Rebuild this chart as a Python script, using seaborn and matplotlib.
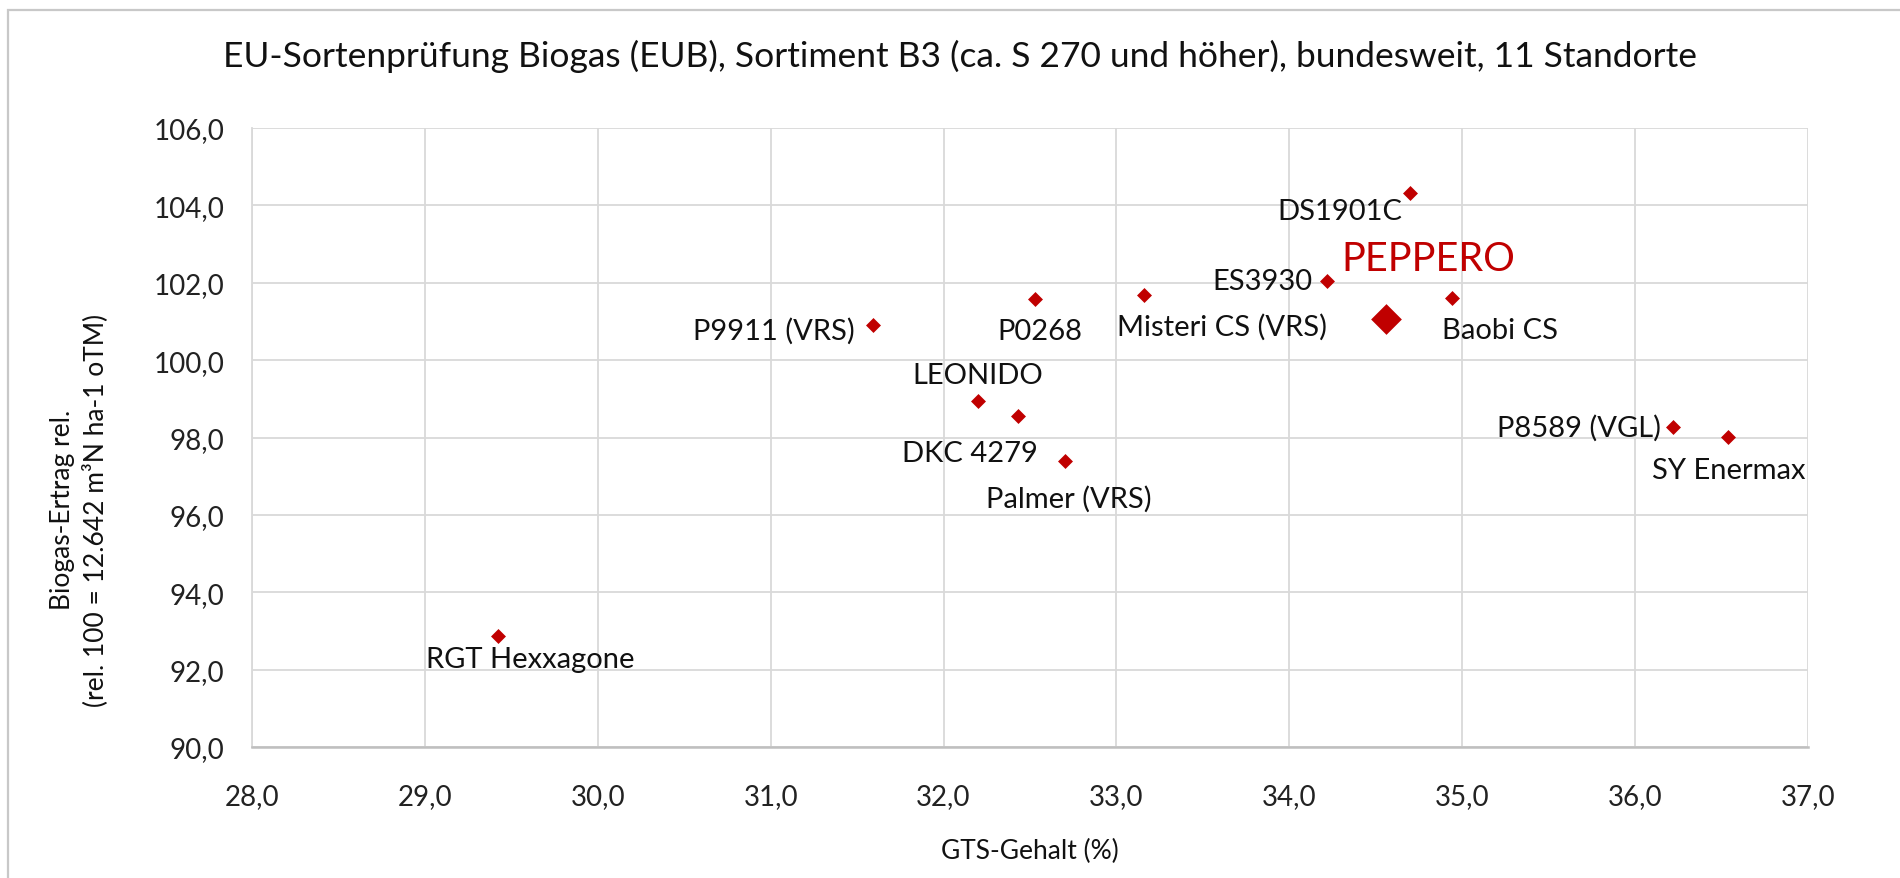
import numpy as np
import pandas as pd
import matplotlib
matplotlib.use("Agg")
import matplotlib.pyplot as plt
import seaborn as sns
from matplotlib.ticker import FuncFormatter
from matplotlib.patches import Rectangle

# Daten
sorten = ["DS1901C", "ES3930", "PEPPERO", "Baobi CS", "Misteri CS (VRS)", "P0268",
          "P9911 (VRS)", "LEONIDO", "DKC 4279", "Palmer (VRS)", "P8589 (VGL)",
          "SY Enermax", "RGT Hexxagone"]
gts = [34.70, 34.22, 34.56, 34.94, 33.16, 32.53, 31.59, 32.20, 32.43, 32.70, 36.22, 36.54, 29.42]
biogas = [104.31, 102.05, 101.06, 101.61, 101.69, 101.58, 100.91, 98.94, 98.56, 97.38, 98.27, 98.01, 92.87]
hervorgehoben = "PEPPERO"

# Label-Versatz in Pixeln (dx, dy nach oben) und Ausrichtung
label_offsets = [(-8, -26, "right"), (-15, -8, "right"), (42, 49, "center"), (48, -40, "center"),
                 (78, -40, "center"), (5, -40, "center"), (-18, -14, "right"), (0, 18, "center"),
                 (-48, -45, "center"), (4, -45, "center"), (-12, -9, "right"), (0, -41, "center"),
                 (33, -31, "center")]

df = pd.DataFrame({"Sorte": sorten, "GTS": gts, "Biogas": biogas})
rot = "#C00000"
grid_col = "#d9d9d9"

sns.set_style("white")
plt.rcParams["font.family"] = ["Lato", "DejaVu Sans"]

fig = plt.figure(figsize=(19, 8.79), dpi=100)
ax = fig.add_axes([252 / 1900, 131 / 879, 1556 / 1900, 619 / 879])

normal = df[df["Sorte"] != hervorgehoben]
gross = df[df["Sorte"] == hervorgehoben]
sns.scatterplot(data=normal, x="GTS", y="Biogas", marker="D", s=58, color=rot,
                linewidth=0, ax=ax, zorder=3)
sns.scatterplot(data=gross, x="GTS", y="Biogas", marker="D", s=245, color=rot,
                linewidth=0, ax=ax, zorder=3)

for (name, x, y), (dx, dy, ha) in zip(zip(sorten, gts, biogas), label_offsets):
    if name == hervorgehoben:
        ax.annotate(name, (x, y), xytext=(dx, dy), textcoords="offset pixels",
                    ha=ha, va="baseline", fontsize=28.5, color=rot)
    else:
        ax.annotate(name, (x, y), xytext=(dx, dy), textcoords="offset pixels",
                    ha=ha, va="baseline", fontsize=21, color="#111111")

ax.set_xlim(28, 37)
ax.set_ylim(90, 106)
ax.set_xticks(np.arange(28, 37.5, 1))
ax.set_yticks(np.arange(90, 106.5, 2))
komma = FuncFormatter(lambda v, p: f"{v:.1f}".replace(".", ","))
ax.xaxis.set_major_formatter(komma)
ax.yaxis.set_major_formatter(komma)
ax.tick_params(axis="both", length=0, labelsize=20, colors="#222222")
ax.tick_params(axis="x", pad=26)
ax.tick_params(axis="y", pad=20)
ax.grid(True, color=grid_col, linewidth=1.3)
ax.set_axisbelow(True)
for s in ["top", "right"]:
    ax.spines[s].set_visible(False)
ax.spines["left"].set_color(grid_col)
ax.spines["left"].set_linewidth(1.3)
ax.spines["bottom"].set_color("#bfbfbf")
ax.spines["bottom"].set_linewidth(1.8)
ax.set_xlabel("")
ax.set_ylabel("")

fig.text(960 / 1900, 1 - 56 / 879,
         "EU-Sortenprüfung Biogas (EUB), Sortiment B3 (ca. S 270 und höher), bundesweit, 11 Standorte",
         ha="center", va="center", fontsize=25.5, color="#111111")
fig.text(1030 / 1900, 1 - 851 / 879, "GTS-Gehalt (%)", ha="center", va="center",
         fontsize=19, color="#111111")
fig.text(79 / 1900, 1 - 510 / 879, "Biogas-Ertrag rel.\n(rel. 100 = 12.642 m³N ha-1 oTM)",
         ha="center", va="center", rotation=90, multialignment="center",
         linespacing=1.3, fontsize=19, color="#111111")

# Rahmen des Diagrammbereichs
fig.patches.append(Rectangle((8 / 1900, -0.1), 2, 1.1 - 11 / 879, transform=fig.transFigure,
                             fill=False, edgecolor="#c8c8c8", linewidth=1.6))

fig.savefig("out.png", dpi=100)
